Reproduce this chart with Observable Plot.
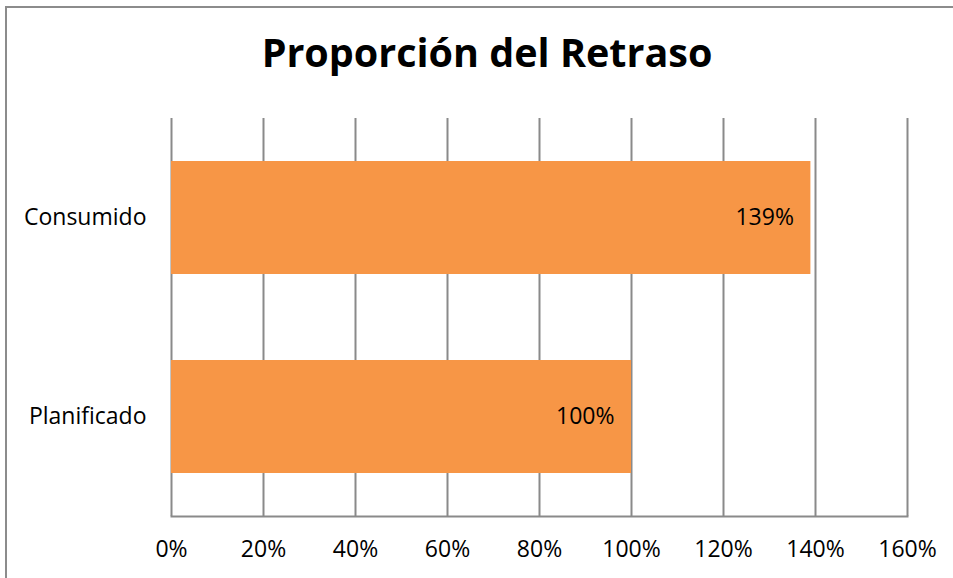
<!DOCTYPE html>
<html>
<head>
<meta charset="utf-8">
<script src="https://cdn.jsdelivr.net/npm/d3@7"></script>
<script src="https://cdn.jsdelivr.net/npm/@observablehq/plot@0.6"></script>
<style>
  html, body { margin: 0; padding: 0; background: #fff; }
  #wrap { position: relative; width: 953px; height: 578px; overflow: hidden; background: #fff; font-family: "Open Sans", sans-serif; }
  #border { position: absolute; left: 5px; top: 6px; width: 980px; height: 620px; border: 2px solid #8c8c8c; box-sizing: border-box; pointer-events: none; }
  #title { position: absolute; left: 0; width: 974px; top: 29px; text-align: center; font-family: "Open Sans", sans-serif; font-weight: 700; font-size: 39.5px; color: #000; line-height: 1.2; white-space: nowrap; }
  #chart { position: absolute; left: 0; top: 0; }
</style>
</head>
<body>
<div id="wrap">
  <div id="chart"></div>
  <div id="border"></div>
  <div id="title">Proporción del Retraso</div>
</div>
<script>
const categories = ["Consumido", "Planificado"];
const values = [1.39, 1.00];
const labels = ["139%", "100%"];
const xTicks = [0, 0.2, 0.4, 0.6, 0.8, 1.0, 1.2, 1.4, 1.6];

const data = categories.map((c, i) => ({ cat: c, v: values[i], label: labels[i] }));

const chart = Plot.plot({
  width: 953,
  height: 578,
  marginLeft: 171,
  marginRight: 46,
  marginTop: 118,
  marginBottom: 62,
  style: { fontFamily: "Open Sans, sans-serif", fontSize: "23px", color: "#000", background: "transparent" },
  x: { domain: [0, 1.6], ticks: xTicks, tickFormat: d => Math.round(d * 100) + "%", tickSize: 0, tickPadding: 24, label: null },
  y: { domain: categories, paddingInner: 0.432, paddingOuter: 0.216, tickSize: 0, tickPadding: 25, label: null },
  marks: [
    Plot.ruleX(xTicks, { stroke: "#8a8a8a", strokeWidth: 2, strokeOpacity: 1 }),
    Plot.frame({ anchor: "bottom", stroke: "#8a8a8a", strokeWidth: 2 }),
    Plot.barX(data, { x: "v", y: "cat", fill: "#F79646" }),
    Plot.text(data, { x: "v", y: "cat", text: "label", textAnchor: "end", dx: -17, fill: "#000", fontSize: 23 })
  ]
});
document.getElementById("chart").appendChild(chart);
</script>
</body>
</html>
